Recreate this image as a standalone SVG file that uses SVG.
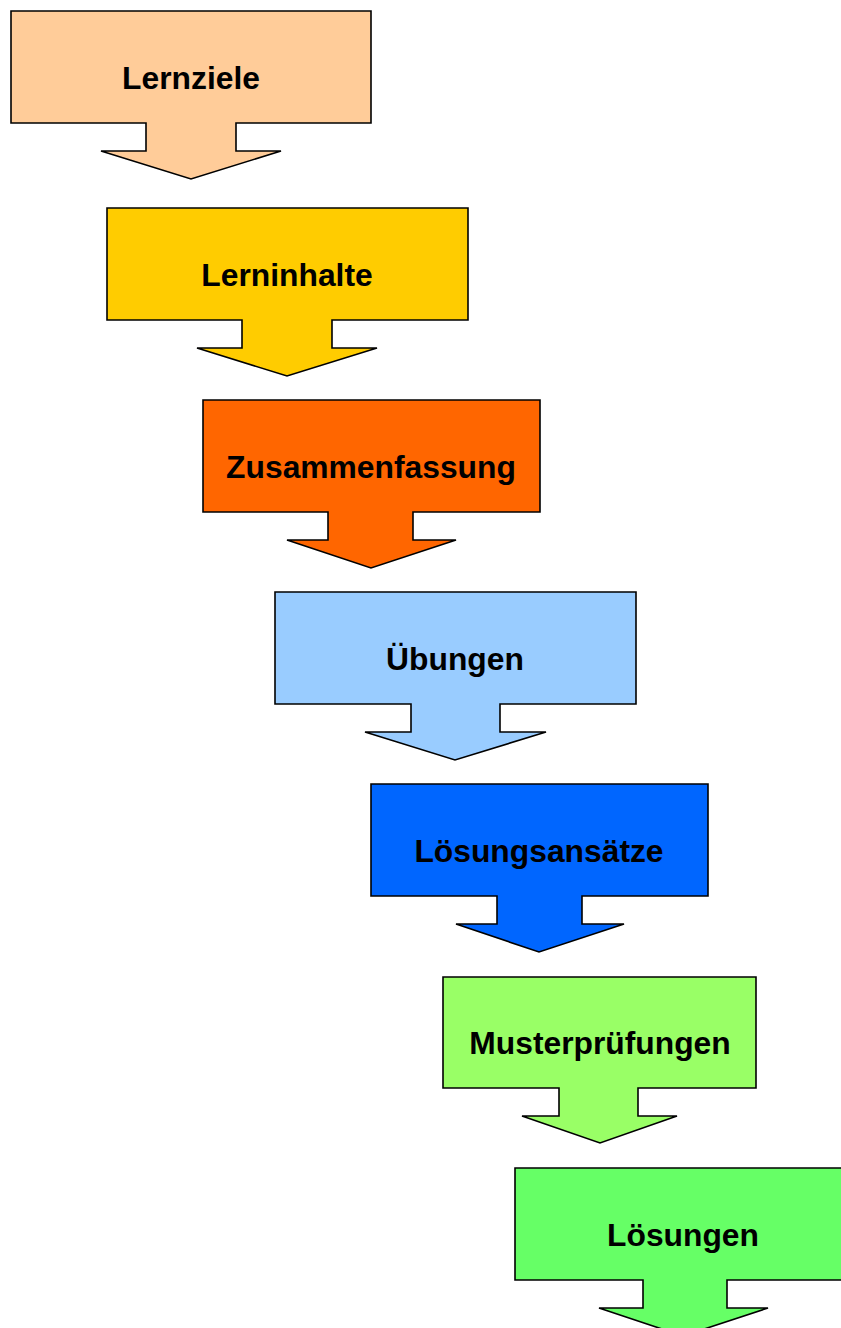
<svg xmlns="http://www.w3.org/2000/svg" width="841" height="1328" viewBox="0 0 841 1328">
<style>
.shape{stroke:#000;stroke-width:1.6;stroke-linejoin:miter}
.label{font-family:"Liberation Sans",Arial,sans-serif;font-weight:bold;font-size:31.8px;fill:#000;text-anchor:middle}
</style>
<rect width="841" height="1328" fill="#fff"/>
<g id="connectors"/>
<g id="lernziele">
<polygon class="shape" fill="#FFCC99" points="11,11 371,11 371,123 236,123 236,151 281,151 191,179 101,151 146,151 146,123 11,123"/>
<text class="label" x="191" y="89">Lernziele</text>
</g>
<g id="lerninhalte">
<polygon class="shape" fill="#FFCC00" points="107,208 468,208 468,320 332,320 332,348 377,348 287,376 197,348 242,348 242,320 107,320"/>
<text class="label" x="287" y="286">Lerninhalte</text>
</g>
<g id="zusammenfassung">
<polygon class="shape" fill="#FF6600" points="203,400 540,400 540,512 413,512 413,540 456,540 371,568 287,540 328,540 328,512 203,512"/>
<text class="label" x="371" y="478">Zusammenfassung</text>
</g>
<g id="uebungen">
<polygon class="shape" fill="#99CCFF" points="275,592 636,592 636,704 500,704 500,732 546,732 455,760 365,732 411,732 411,704 275,704"/>
<text class="label" x="455" y="670">Übungen</text>
</g>
<g id="loesungsansaetze">
<polygon class="shape" fill="#0066FF" points="371,784 708,784 708,896 582,896 582,924 624,924 539,952 456,924 497,924 497,896 371,896"/>
<text class="label" x="539" y="862">Lösungsansätze</text>
</g>
<g id="musterpruefungen">
<polygon class="shape" fill="#99FF66" points="443,977 756,977 756,1088 638,1088 638,1116 677,1116 600,1143 522,1116 559,1116 559,1088 443,1088"/>
<text class="label" x="600" y="1054">Musterprüfungen</text>
</g>
<g id="loesungen">
<polygon class="shape" fill="#66FF66" points="515,1168 851,1168 851,1280 727,1280 727,1308 768,1308 683,1336 599,1308 643,1308 643,1280 515,1280"/>
<text class="label" x="683" y="1246">Lösungen</text>
</g>
</svg>
